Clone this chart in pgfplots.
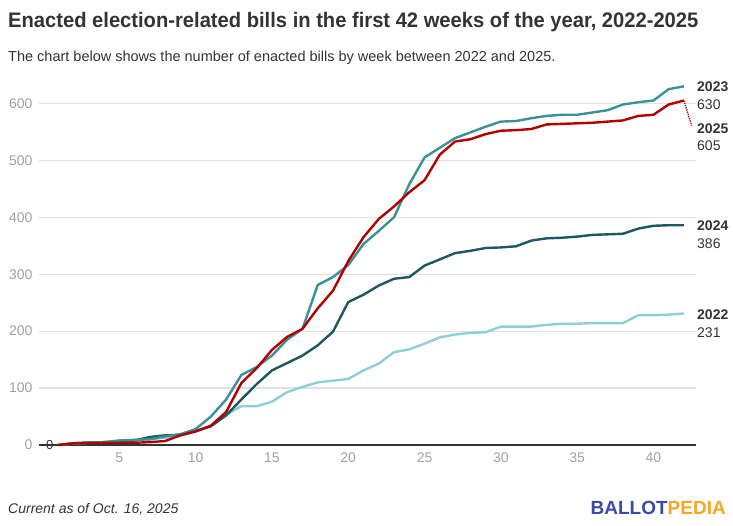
\documentclass[border=0pt]{standalone}
\usepackage{fontspec}
\setmainfont{Liberation Sans}
\usepackage{pgfplots}
\pgfplotsset{compat=1.18}

\definecolor{c22}{RGB}{142,206,216}
\definecolor{c23}{RGB}{59,145,153}
\definecolor{c24}{RGB}{27,88,95}
\definecolor{c25}{RGB}{178,0,0}
\definecolor{txt}{RGB}{51,51,51}
\definecolor{tick}{RGB}{160,160,160}
\definecolor{bpblue}{RGB}{56,75,168}
\definecolor{bporange}{RGB}{245,166,35}

% week, bills (cumulative)
\pgfplotstableread{
w y
1 0
2 3
3 4
4 5
5 7
6 9
7 10
8 13
9 16
10 24
11 33
12 53
13 68
14 68
15 76
16 93
17 102
18 110
19 113
20 116
21 131
22 143
23 163
24 168
25 178
26 189
27 194
28 197
29 198
30 208
31 208
32 208
33 211
34 213
35 213
36 214
37 214
38 214
39 228
40 228
41 229
42 231
}\ytwentytwo

\pgfplotstableread{
w y
1 0
2 3
3 4
4 5
5 8
6 9
7 10
8 15
9 19
10 28
11 50
12 80
13 123
14 137
15 157
16 185
17 204
18 281
19 295
20 316
21 353
22 376
23 400
24 458
25 505
26 522
27 539
28 549
29 559
30 568
31 569
32 574
33 578
34 580
35 580
36 584
37 588
38 598
39 602
40 605
41 625
42 630
}\ytwentythree

\pgfplotstableread{
w y
1 0
2 3
3 4
4 5
5 6
6 8
7 14
8 17
9 18
10 24
11 33
12 52
13 80
14 107
15 131
16 144
17 157
18 175
19 199
20 251
21 264
22 280
23 292
24 295
25 315
26 326
27 337
28 341
29 346
30 347
31 349
32 359
33 363
34 364
35 366
36 369
37 370
38 371
39 380
40 385
41 386
42 386
}\ytwentyfour

\pgfplotstableread{
w y
1 0
2 3
3 4
4 4
5 4
6 4
7 5
8 7
9 17
10 24
11 34
12 58
13 109
14 135
15 167
16 190
17 204
18 240
19 271
20 323
21 365
22 397
23 419
24 444
25 465
26 510
27 533
28 537
29 546
30 552
31 553
32 555
33 563
34 564
35 565
36 566
37 568
38 570
39 578
40 580
41 598
42 605
}\ytwentyfive

\begin{document}
\begin{tikzpicture}
\path[use as bounding box] (0pt,0pt) rectangle (733pt,525pt);

\begin{axis}[
    at={(39pt,80pt)}, anchor=south west,
    scale only axis, width=657pt, height=353pt,
    xmin=-0.265, xmax=42.79, ymin=0, ymax=620,
    axis lines*=left,
    y axis line style={draw=none},
    x axis line style={draw=txt, line width=1.2pt},
    xtick={5,10,...,40}, ytick={0,100,...,600},
    major tick length=0pt,
    ymajorgrids, grid style={draw=black!12, line width=1.2pt},
    tick label style={font=\fontsize{14}{14}\selectfont, text=tick},
    /pgf/number format/assume math mode=true,
    yticklabel style={xshift=-3pt},
    xticklabel style={yshift=-4pt},
    clip=false,
    every axis plot/.append style={line width=2.4pt, line join=round},
]
\addplot[c22] table[x=w, y=y] {\ytwentytwo};
\addplot[c24] table[x=w, y=y] {\ytwentyfour};
\addplot[c23] table[x=w, y=y] {\ytwentythree};
\addplot[c25] table[x=w, y=y] {\ytwentyfive};
\draw[c25, line width=1.3pt, densely dotted] (axis cs:42,605) -- (axis cs:42.5,561);
\node[anchor=west, inner sep=0pt, text=txt, font=\fontsize{13}{13}\selectfont] at (axis cs:-0.1,0) {-0};
\end{axis}

% end labels
\begin{scope}[every node/.style={anchor=west, inner sep=0pt, text=txt}]
\node[font=\fontsize{14}{14}\selectfont\bfseries] at (697pt,438.3pt) {2023};
\node[font=\fontsize{14}{14}\selectfont] at (697pt,420pt) {630};
\node[font=\fontsize{14}{14}\selectfont\bfseries] at (697pt,396.7pt) {2025};
\node[font=\fontsize{14}{14}\selectfont] at (697pt,379pt) {605};
\node[font=\fontsize{14}{14}\selectfont\bfseries] at (697pt,299pt) {2024};
\node[font=\fontsize{14}{14}\selectfont] at (697pt,281pt) {386};
\node[font=\fontsize{14}{14}\selectfont\bfseries] at (697pt,210pt) {2022};
\node[font=\fontsize{14}{14}\selectfont] at (697pt,192.3pt) {231};
\end{scope}

% title and notes
\node[anchor=base west, inner sep=0pt, text=txt, xscale=0.96,
      font=\fontsize{21}{21}\selectfont\bfseries] at (8pt,497pt)
  {Enacted election-related bills in the first 42 weeks of the year, 2022-2025};
\node[anchor=base west, inner sep=0pt, text=txt,
      font=\fontsize{14.5}{14.5}\selectfont] at (8pt,463pt)
  {The chart below shows the number of enacted bills by week between 2022 and 2025.};
\node[anchor=base west, inner sep=0pt, text=txt,
      font=\fontsize{14}{14}\selectfont\itshape] at (8pt,12pt)
  {Current as of Oct. 16, 2025};
\node[anchor=base east, inner sep=0pt, font=\fontsize{19}{19}\selectfont\bfseries] at (726pt,11pt)
  {\textcolor{bpblue}{BALLOT}\textcolor{bporange}{PEDIA}};
\end{tikzpicture}
\end{document}
